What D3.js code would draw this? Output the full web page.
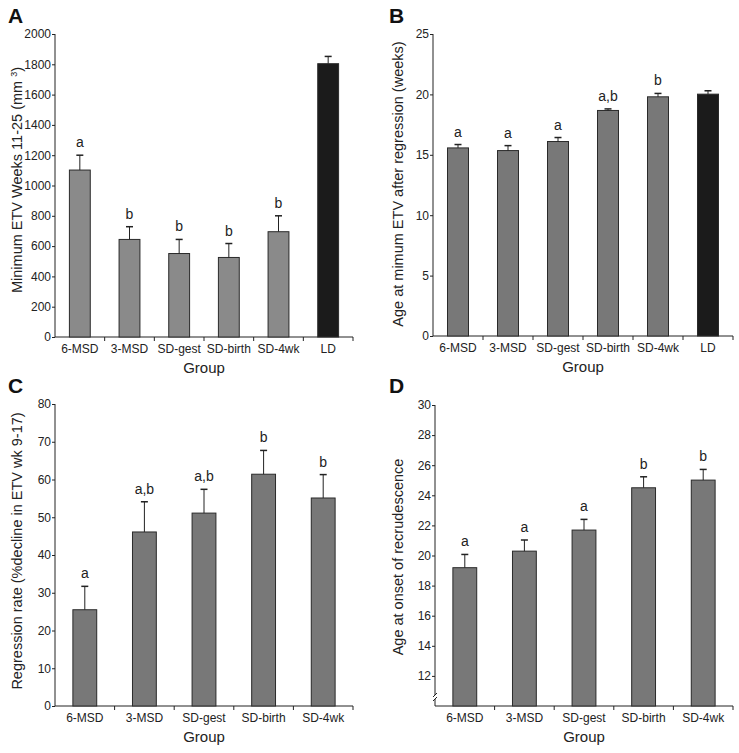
<!DOCTYPE html>
<html>
<head>
<meta charset="utf-8">
<script src="https://cdn.jsdelivr.net/npm/d3@7/dist/d3.min.js"></script>
<style>
  body { margin: 0; background: white; }
  svg { font-family: "Liberation Sans", Arial, sans-serif; }
</style>
</head>
<body>
<div id="chart"></div>
<script>
// group names
const groupsAB = ["6-MSD", "3-MSD", "SD-gest", "SD-birth", "SD-4wk", "LD"];
const groupsCD = ["6-MSD", "3-MSD", "SD-gest", "SD-birth", "SD-4wk"];

// A: minimum ETV weeks 11-25
const minEtv = [1102, 644, 551, 525, 695, 1804];
const minEtvErr = [98, 84, 93, 92, 105, 48];
const minEtvSig = ["a", "b", "b", "b", "b", ""];

// B: age at minimum ETV
const ageMin = [15.57, 15.35, 16.1, 18.67, 19.8, 20.02];
const ageMinErr = [0.28, 0.41, 0.33, 0.13, 0.28, 0.28];
const ageMinSig = ["a", "a", "a", "a,b", "b", ""];

// C: regression rate
const regRate = [25.5, 46.1, 51.1, 61.4, 55.1];
const regRateErr = [6.2, 8.0, 6.3, 6.3, 6.2];
const regRateSig = ["a", "a,b", "a,b", "b", "b"];

// D: age at onset of recrudescence
const onsetAge = [19.19, 20.29, 21.69, 24.5, 25.01];
const onsetAgeErr = [0.88, 0.74, 0.71, 0.73, 0.71];
const onsetAgeSig = ["a", "a", "a", "b", "b"];

const width = 739, height = 753;
const font = '"Liberation Sans", Arial, sans-serif';

let svg = d3.select('#chart')
    .append('svg')
    .attr('width', width)
    .attr('height', height)
    .style('background', 'white');

function drawPanel(p) {
    const g = svg.append('g');

    let xScale = d3.scaleBand()
        .domain(p.groups)
        .range([p.x0, p.x1]);

    let yScale = d3.scaleLinear()
        .domain(p.domain)
        .range([p.y0, p.y1]);

    const bw = xScale.bandwidth() * p.barFrac;
    const data = p.groups.map((name, i) => ({
        name: name, value: p.values[i], err: p.errs[i], sig: p.sigs[i]
    }));

    // y axis
    let yaxis = g.append('g')
        .attr('transform', `translate(${p.x0},0)`)
        .call(d3.axisLeft(yScale).tickValues(p.ticks).tickFormat(d3.format('d'))
            .tickSize(3).tickSizeOuter(0).tickPadding(1));
    yaxis.attr('font-family', font);
    yaxis.select('.domain').attr('d', `M0,${p.y0}V${yScale(p.domain[1])}`).attr('stroke', '#222');
    yaxis.selectAll('.tick line').attr('stroke', '#222');
    yaxis.selectAll('text').style('font-size', '12px').attr('fill', '#222');

    // x axis line and boundary ticks
    g.append('line')
        .attr('x1', p.x0).attr('x2', p.x1)
        .attr('y1', p.y0).attr('y2', p.y0)
        .attr('stroke', '#222');
    g.selectAll('.xtick')
        .data(p.groups)
        .enter()
        .append('line')
        .attr('x1', d => xScale(d) + xScale.bandwidth())
        .attr('x2', d => xScale(d) + xScale.bandwidth())
        .attr('y1', p.y0).attr('y2', p.y0 + 4)
        .attr('stroke', '#222');
    g.selectAll('.xlab')
        .data(p.groups)
        .enter()
        .append('text')
        .attr('x', d => xScale(d) + xScale.bandwidth() / 2)
        .attr('y', p.y0 + 16)
        .attr('text-anchor', 'middle')
        .style('font-size', '12px')
        .attr('fill', '#222')
        .text(d => d);

    // bars
    g.selectAll('.bar')
        .data(data)
        .enter()
        .append('rect')
        .attr('x', d => xScale(d.name) + (xScale.bandwidth() - bw) / 2)
        .attr('y', d => yScale(d.value))
        .attr('width', bw)
        .attr('height', d => p.y0 - yScale(d.value))
        .attr('fill', d => d.name === 'LD' ? '#1b1b1b' : p.fill)
        .attr('stroke', '#2a2a2a')
        .attr('stroke-width', 1);

    // error bars (upper only)
    data.forEach(d => {
        const cx = xScale(d.name) + xScale.bandwidth() / 2;
        const top = yScale(d.value + d.err);
        g.append('line')
            .attr('x1', cx).attr('x2', cx)
            .attr('y1', yScale(d.value)).attr('y2', top)
            .attr('stroke', '#222');
        g.append('line')
            .attr('x1', cx - 3.5).attr('x2', cx + 3.5)
            .attr('y1', top).attr('y2', top)
            .attr('stroke', '#222').attr('stroke-width', 1.5);
        g.append('text')
            .attr('x', cx)
            .attr('y', top - 8)
            .attr('text-anchor', 'middle')
            .style('font-size', '14px')
            .attr('fill', '#222')
            .text(d.sig);
    });

    // axis titles
    g.append('text')
        .attr('x', (p.x0 + p.x1) / 2)
        .attr('y', p.y0 + 36)
        .attr('text-anchor', 'middle')
        .style('font-size', '15px')
        .attr('fill', '#222')
        .text('Group');

    const yt = g.append('text')
        .attr('transform', `translate(${p.titleX},${p.titleY}) rotate(-90)`)
        .attr('text-anchor', 'middle')
        .style('font-size', '14.5px')
        .attr('fill', '#222')
        .text(p.title);
    if (p.titleSup) {
        yt.append('tspan').attr('dy', -5).style('font-size', '9px').text(p.titleSup);
        yt.append('tspan').attr('dy', 5).text(')');
    }

    // panel letter
    g.append('text')
        .attr('x', p.letterX)
        .attr('y', p.letterY)
        .style('font-size', '21px')
        .style('font-weight', 'bold')
        .attr('fill', '#111')
        .text(p.letter);

    return g;
}

drawPanel({
    letter: 'A', letterX: 8, letterY: 23,
    groups: groupsAB, values: minEtv, errs: minEtvErr, sigs: minEtvSig,
    x0: 55, x1: 353, y0: 337, y1: 34, domain: [0, 2000],
    ticks: d3.range(0, 2001, 200), barFrac: 0.42, fill: '#8a8a8a',
    title: 'Minimum ETV Weeks 11-25 (mm ', titleSup: '3', titleX: 22, titleY: 180
});

drawPanel({
    letter: 'B', letterX: 389, letterY: 23,
    groups: groupsAB, values: ageMin, errs: ageMinErr, sigs: ageMinSig,
    x0: 433, x1: 733, y0: 336, y1: 34, domain: [0, 25],
    ticks: d3.range(0, 26, 5), barFrac: 0.42, fill: '#787878',
    title: 'Age at mimum ETV after regression (weeks)', titleX: 403, titleY: 184
});

drawPanel({
    letter: 'C', letterX: 8, letterY: 393,
    groups: groupsCD, values: regRate, errs: regRateErr, sigs: regRateSig,
    x0: 55, x1: 353, y0: 706, y1: 404, domain: [0, 80],
    ticks: d3.range(0, 81, 10), barFrac: 0.4, fill: '#787878',
    title: 'Regression rate (%decline in ETV wk 9-17)', titleX: 22, titleY: 551
});

let panelD = drawPanel({
    letter: 'D', letterX: 389, letterY: 393,
    groups: groupsCD, values: onsetAge, errs: onsetAgeErr, sigs: onsetAgeSig,
    x0: 435, x1: 733, y0: 706, y1: 405, domain: [10, 30],
    ticks: d3.range(12, 31, 2), barFrac: 0.4, fill: '#787878',
    title: 'Age at onset of recrudescence', titleX: 403, titleY: 557
});

// axis break marks on D
panelD.append('rect').attr('x', 432).attr('y', 695).attr('width', 6).attr('height', 4).attr('fill', 'white');
panelD.append('line').attr('x1', 433).attr('y1', 697).attr('x2', 437).attr('y2', 693).attr('stroke', '#222');
panelD.append('line').attr('x1', 433).attr('y1', 701).attr('x2', 437).attr('y2', 697).attr('stroke', '#222');
</script>
</body>
</html>
